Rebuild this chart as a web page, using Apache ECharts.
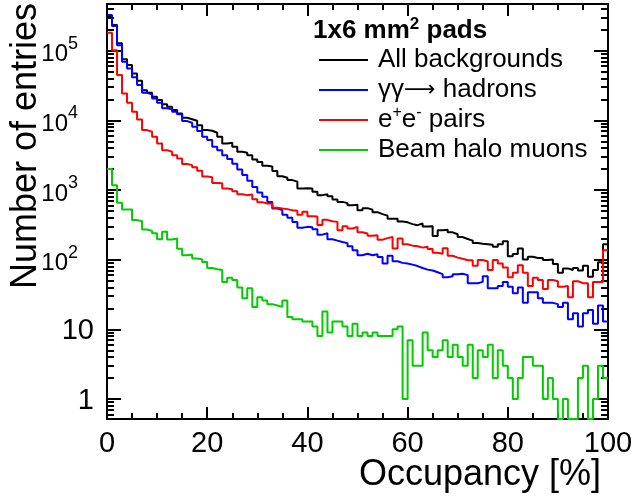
<!DOCTYPE html>
<html><head><meta charset="utf-8">
<script src="https://cdn.jsdelivr.net/npm/echarts@6/dist/echarts.min.js"></script>
<style>html,body{margin:0;padding:0;background:#fff}#c{width:636px;height:504px}</style>
</head><body><div id="c"></div>
<script>
// ---- data: entries per 1% occupancy bin (bins 0-1, 1-2, ..., 99-100) ----
const binWidth = 1;
const allBackgrounds = [
 308000,234000,128000,75200,62400,47300,37100,27200,24900,21800,
 19600,17100,15700,14100,12600,10900,10400,9860,8550,7260,
 7090,6640,5810,4670,4770,4180,3540,3420,3170,2750,
 2520,2240,2180,1870,1580,1500,1390,1320,1050,1060,
 1050,942,845,873,817,733,676,649,607,617,
 514,550,520,481,451,429,388,388,354,344,
 324,313,331,300,303,218,265,268,247,232,
 211,198,188,173,169,167,164,153,167,184,
 112,121,145,101,110,106,106,99,101,87,
 65,75,71,76,70,82,57,71,92,167];
const gammaHadrons = [
 326000,226000,120000,69500,55800,41500,32100,24900,23600,20700,
 17900,14900,14400,13300,12300,9770,9250,8090,7020,5810,
 5210,4180,3740,3170,2780,2390,1980,1640,1360,1110,
 924,798,676,544,514,443,401,349,288,296,
 293,274,229,240,197,188,180,173,156,137,
 116,122,116,120,109,88,114,95,90,88,
 85,81,76,72,70,66,62,56,58,62,
 63,60,46,46,48,58,39,39,42,48,
 41,33,40,24,34,34,28,24,24,23,
 21,24,14,17,11,17,19,12,22,13];
const eePairs = [
 182000,102000,44800,24400,17900,13300,10300,7260,6860,5810,
 4670,3740,3540,3170,2840,2360,2280,2130,1900,1560,
 1530,1260,1250,1050,1030,964,873,845,865,740,
 670,642,642,558,544,532,514,506,443,486,
 422,418,316,373,357,349,265,303,281,296,
 248,238,221,225,194,204,211,145,202,167,
 159,156,149,153,142,126,122,146,114,107,
 103,98,98,82,99,94,71,99,88,77,
 56,65,83,65,42,55,51,38,51,49,
 41,42,29,49,46,46,29,48,48,137];
const haloMuons = [
 2000,1175,659,526,526,370,357,272,259,240,
 197,251,195,202,143,116,119,104,101,93,
 76,73,71,48,55,51,40,28,39,21,
 29,26,23,22,21,26,15,14,14,13,
 13,11,8,18,9,13,13,11,8,12,
 8,9,8,9,8,8,8,10,11,1,
 7,3,3,9,5,4,5,7,4,6,
 4,3,6,2,5,4,6,2,5,3,
 2,1,2,4,4,3,3,1,2,1,
 0,1,0,0,2,3,0,1,3,2];
const seriesNames = ['All backgrounds', 'γγ→ hadrons', 'e+e- pairs', 'Beam halo muons'];
const seriesColors = ['#000000', '#0000ff', '#ff0000', '#00cc00'];
const xTickValues = [0, 20, 40, 60, 80, 100];
const yMajorValues = [1, 10, 100, 1000, 10000, 100000];
const titleText = '1x6 mm² pads';
const xTitle = 'Occupancy [%]';
const yTitle = 'Number of entries';

// ---- axis ranges ----
const yMin = 0.516, yMax = 469000;
const xMin = 0, xMax = 100;
const yMinorValues = [];
for (let e = -1; e <= 5; e++) {
  for (let m = 2; m <= 9; m++) {
    const v = m * Math.pow(10, e);
    if (v > yMin && v < yMax) yMinorValues.push(+v.toPrecision(3));
  }
}

const FONT = 'Liberation Sans';
function toSteps(vals) {
  const pts = vals.map((v, i) => [i * binWidth, v > 0 ? v : yMin]);
  const last = vals[vals.length - 1];
  pts.push([vals.length * binWidth, last > 0 ? last : yMin]);
  return pts;
}
const dataSets = [allBackgrounds, gammaHadrons, eePairs, haloMuons];

const lineCol = '#000';
function xAxisDef(pos, withLabels) {
  return {
    type: 'value', position: pos, min: xMin, max: xMax, interval: 20,
    axisLine: { show: true, onZero: false, lineStyle: { color: lineCol, width: 2 } },
    axisTick: { show: true, inside: true, length: 12, lineStyle: { color: lineCol, width: 2 } },
    minorTick: { show: true, splitNumber: 4, length: 6, lineStyle: { color: lineCol, width: 2 } },
    splitLine: { show: false }, minorSplitLine: { show: false },
    axisLabel: withLabels ? {
      show: true, fontSize: 29, fontFamily: FONT, color: '#000', margin: 10,
      customValues: xTickValues, formatter: v => String(v)
    } : { show: false },
    name: withLabels ? xTitle : '',
    nameLocation: 'end', nameGap: -7, nameMoveOverlap: false,
    nameTextStyle: { fontSize: 36, fontFamily: FONT, color: '#000', align: 'right', verticalAlign: 'top', padding: [38, 0, 0, 0] }
  };
}
function yAxisDef(pos, major, withLabels) {
  const ax = {
    type: 'log', logBase: 10, position: pos, min: yMin, max: yMax,
    axisLine: { show: major, onZero: false, lineStyle: { color: lineCol, width: 2 } },
    axisTick: { show: true, inside: true, length: major ? 14 : 7,
      customValues: major ? yMajorValues : yMinorValues,
      lineStyle: { color: lineCol, width: 2 } },
    minorTick: { show: false },
    splitLine: { show: false },
    axisLabel: { show: false }
  };
  if (withLabels) {
    ax.axisLabel = {
      show: true, margin: 13, customValues: yMajorValues, color: '#000',
      formatter: v => {
        const e = Math.round(Math.log10(v));
        if (e >= 2) return '{b|10}{s|' + e + '}';
        return '{n|' + Math.round(v) + '}';
      },
      rich: {
        n: { fontSize: 29, fontFamily: FONT, color: '#000', padding: [4, 0, 0, 0] },
        b: { fontSize: 24, fontFamily: FONT, color: '#000', padding: [8, 0, 0, 0] },
        s: { fontSize: 18, fontFamily: FONT, color: '#000', verticalAlign: 'top', padding: [0, 16, 0, 0] }
      }
    };
    ax.name = yTitle;
    ax.nameLocation = 'end';
    ax.nameRotate = 90;
    ax.nameGap = 1;
    ax.nameMoveOverlap = false;
    ax.nameTextStyle = { fontSize: 36, fontFamily: FONT, color: '#000', align: 'right', verticalAlign: 'bottom', padding: [0, 0, 63, 0] };
  }
  return ax;
}

function legendLabel(name) {
  if (name === 'e+e- pairs') return '{t|e}{s|+}{t|e}{s|-}{t| pairs}';
  if (name === 'γγ→ hadrons') return '{t|γγ}{a|⟶}{t| hadrons}';
  return '{t|' + name + '}';
}

const chart = echarts.init(document.getElementById('c'), null, { renderer: 'canvas' });
chart.setOption({
  animation: false,
  backgroundColor: '#fff',
  grid: { left: 107, right: 28, top: 4, bottom: 85, containLabel: false, outerBoundsMode: 'none' },
  title: {
    text: '{a|1x6 mm}{s|2}{a| pads}', left: 313, top: 16, padding: 0,
    textStyle: { rich: {
      a: { fontSize: 26, fontWeight: 'bold', fontFamily: FONT, color: '#000', lineHeight: 30 },
      s: { fontSize: 17, fontWeight: 'bold', fontFamily: FONT, color: '#000', verticalAlign: 'top' }
    } }
  },
  legend: {
    orient: 'vertical', left: 319, top: 45, padding: 0, itemGap: 0,
    itemWidth: 49, itemHeight: 2, icon: 'rect', selectedMode: false,
    data: seriesNames,
    formatter: legendLabel,
    textStyle: {
      fontSize: 26, fontFamily: FONT, color: '#000', lineHeight: 30, padding: [0, 0, 0, 5],
      rich: {
        t: { fontSize: 26, fontFamily: FONT, color: '#000', lineHeight: 30 },
        a: { fontSize: 22, fontFamily: 'DejaVu Sans', color: '#000', lineHeight: 30 },
        s: { fontSize: 16, fontFamily: FONT, color: '#000', verticalAlign: 'top', lineHeight: 16 }
      }
    }
  },
  xAxis: [xAxisDef('bottom', true), xAxisDef('top', false)],
  yAxis: [yAxisDef('left', true, true), yAxisDef('left', false, false),
          yAxisDef('right', true, false), yAxisDef('right', false, false)],
  series: dataSets.map((d, k) => ({
    name: seriesNames[k], type: 'line', step: 'end', xAxisIndex: 0, yAxisIndex: 0,
    data: toSteps(d), symbol: 'none', showSymbol: false, clip: true,
    color: seriesColors[k], itemStyle: { color: seriesColors[k] },
    lineStyle: { color: seriesColors[k], width: 2 },
    emphasis: { disabled: true }
  }))
});
</script></body></html>
